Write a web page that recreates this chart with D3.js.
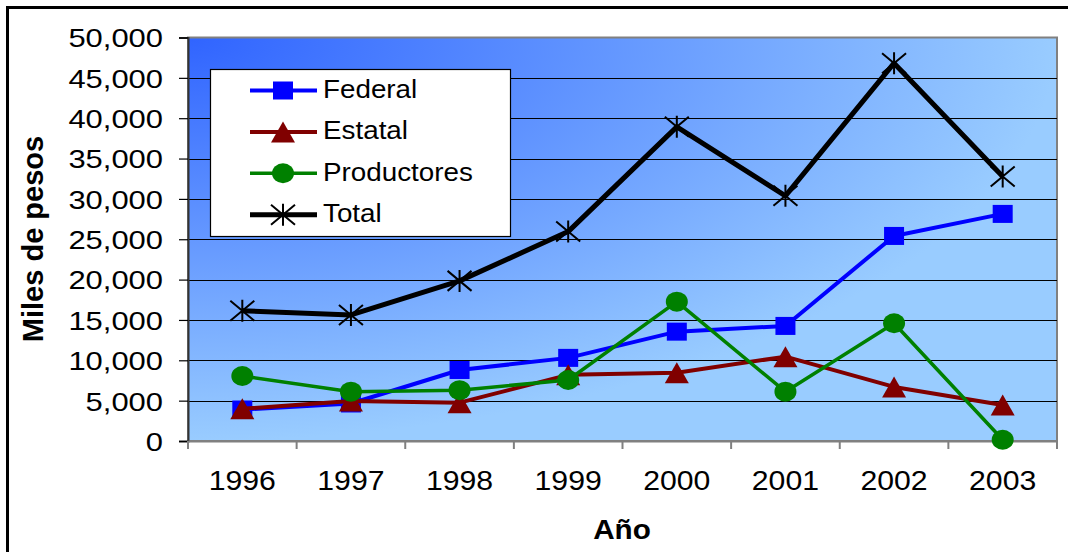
<!DOCTYPE html>
<html>
<head>
<meta charset="utf-8">
<script src="https://cdn.jsdelivr.net/npm/d3@7/dist/d3.min.js"></script>
<style>
  body { margin: 0; background: #fff; }
  svg { display: block; font-family: "Liberation Sans", Arial, sans-serif; }
</style>
</head>
<body>
<svg id="chart" width="1068" height="552"></svg>
<script>
// Aportaciones por año (miles de pesos)
const years = ["1996", "1997", "1998", "1999", "2000", "2001", "2002", "2003"];
const federal = [3900, 4650, 8800, 10300, 13550, 14260, 25410, 28140];
const estatal = [4000, 4950, 4750, 8200, 8470, 10450, 6700, 4460];
const productores = [8060, 6110, 6300, 7560, 17270, 6110, 14590, 150];
const total = [16150, 15620, 19840, 25950, 38930, 30380, 46820, 32770];
const yTicks = [0, 5000, 10000, 15000, 20000, 25000, 30000, 35000, 40000, 45000, 50000];
const seriesNames = ["Federal", "Estatal", "Productores", "Total"];

const series = [
  { name: seriesNames[0], values: federal, color: "#0000ff", width: 4, marker: "square" },
  { name: seriesNames[1], values: estatal, color: "#800000", width: 4, marker: "triangle" },
  { name: seriesNames[2], values: productores, color: "#008000", width: 3.5, marker: "circle" },
  { name: seriesNames[3], values: total, color: "#000000", width: 5, marker: "star" }
];

const svg = d3.select("#chart");
const plot = { left: 188, right: 1057, top: 37.5, bottom: 441 };

const x = d3.scaleBand().domain(years).range([plot.left, plot.right]).padding(0);
const y = d3.scaleLinear().domain([0, 50000]).range([plot.bottom, plot.top]);

// outer frame
svg.append("path")
  .attr("d", "M7.5,560 L7.5,7.5 L1080,7.5")
  .attr("fill", "none").attr("stroke", "#000").attr("stroke-width", 3);

// plot background: gradient spreading from the upper-left corner
const defs = svg.append("defs");
const grad = defs.append("radialGradient").attr("id", "plotBg")
  .attr("cx", 0).attr("cy", 0).attr("fx", 0).attr("fy", 0).attr("r", 1);
grad.append("stop").attr("offset", 0).attr("stop-color", "#3064ff");
grad.append("stop").attr("offset", 1).attr("stop-color", "#99ccff");

svg.append("rect")
  .attr("x", plot.left).attr("y", plot.top)
  .attr("width", plot.right - plot.left).attr("height", plot.bottom - plot.top)
  .attr("fill", "url(#plotBg)")
  .attr("stroke", "#808080").attr("stroke-width", 2);

// gridlines
svg.append("g").selectAll("line")
  .data(yTicks.filter(d => d > 0 && d < 50000))
  .join("line")
  .attr("x1", plot.left).attr("x2", plot.right)
  .attr("y1", d => Math.round(y(d)) + 0.5).attr("y2", d => Math.round(y(d)) + 0.5)
  .attr("stroke", "#000").attr("stroke-width", 1);

// y axis
const yAxis = svg.append("g")
  .attr("transform", `translate(${plot.left},0)`)
  .call(d3.axisLeft(y).tickValues(yTicks).tickSize(9).tickFormat(d3.format(",")));
yAxis.select(".domain").attr("stroke", "#333").attr("stroke-width", 2);
yAxis.selectAll(".tick line").attr("stroke", "#000").attr("stroke-width", 1.2);
yAxis.selectAll(".tick text")
  .attr("font-family", "Liberation Sans, Arial, sans-serif")
  .attr("font-size", 26).attr("fill", "#000")
  .attr("x", -25 / 1.19).attr("dy", "0.36em")
  .attr("transform", "scale(1.19,1)");

// x axis (labels at the category centres, ticks at the category edges)
const xAxis = svg.append("g")
  .attr("transform", `translate(0,${plot.bottom})`)
  .call(d3.axisBottom(x).tickSize(0));
xAxis.select(".domain").attr("stroke", "#808080").attr("stroke-width", 2);
xAxis.selectAll(".tick text")
  .attr("font-family", "Liberation Sans, Arial, sans-serif")
  .attr("font-size", 27).attr("fill", "#000")
  .attr("y", 49).attr("dy", 0)
  .attr("transform", "scale(1.12,1)")
  .attr("x", 0);
// keep the stretched labels centred on their tick
xAxis.selectAll(".tick").each(function (d) {
  const cx = x(d) + x.bandwidth() / 2;
  d3.select(this).attr("transform", `translate(${cx},0)`);
});
const edges = years.map(d => x(d)).concat([x(years[years.length - 1]) + x.bandwidth()]);
xAxis.selectAll(".edge").data(edges).join("line").attr("class", "edge")
  .attr("x1", d => d).attr("x2", d => d).attr("y1", 0).attr("y2", 8)
  .attr("stroke", "#808080").attr("stroke-width", 2);

// axis titles
svg.append("text")
  .attr("transform", "translate(43,239) rotate(-90)")
  .attr("text-anchor", "middle").attr("font-weight", "bold")
  .attr("font-size", 29).attr("fill", "#000")
  .text("Miles de pesos");
svg.append("text")
  .attr("transform", "translate(622,539) scale(1.1,1)")
  .attr("text-anchor", "middle").attr("font-weight", "bold")
  .attr("font-size", 27).attr("fill", "#000")
  .text("Año");

// marker shapes
function drawMarker(g, type, color) {
  if (type === "square") {
    g.append("rect").attr("x", -10).attr("y", -9).attr("width", 20).attr("height", 18).attr("fill", color);
  } else if (type === "triangle") {
    g.append("path").attr("d", "M0,-10.5 L12,10.5 L-12,10.5 Z").attr("fill", color);
  } else if (type === "circle") {
    g.append("ellipse").attr("rx", 11).attr("ry", 10).attr("fill", color);
  } else if (type === "star") {
    g.append("path").attr("d", "M0,-11 L0,11 M-12,-10 L12,10 M-12,10 L12,-10")
      .attr("stroke", color).attr("stroke-width", 2).attr("fill", "none");
  }
}

// series lines and markers
const line = d3.line().x(d => d.x).y(d => d.y);
series.forEach(s => {
  const pts = s.values.map((v, i) => ({ x: x(years[i]) + x.bandwidth() / 2, y: y(v) }));
  const g = svg.append("g");
  g.append("path").attr("d", line(pts))
    .attr("fill", "none").attr("stroke", s.color).attr("stroke-width", s.width)
    .attr("stroke-linejoin", "round");
  pts.forEach(p => {
    drawMarker(g.append("g").attr("transform", `translate(${p.x},${p.y})`), s.marker, s.color);
  });
});

// legend
const legend = svg.append("g");
legend.append("rect")
  .attr("x", 210.5).attr("y", 69.5).attr("width", 300).attr("height", 167)
  .attr("fill", "#fff").attr("stroke", "#000").attr("stroke-width", 1.2);
series.forEach((s, i) => {
  const ry = 90.5 + i * 41.4;
  const row = legend.append("g");
  row.append("line").attr("x1", 250).attr("x2", 317).attr("y1", ry).attr("y2", ry)
    .attr("stroke", s.color).attr("stroke-width", s.width);
  drawMarker(row.append("g").attr("transform", `translate(283,${ry})`), s.marker, s.color);
  row.append("text")
    .attr("transform", `translate(323,${ry + 7.5}) scale(1.07,1)`)
    .attr("font-size", 26).attr("fill", "#000")
    .text(s.name);
});
</script>
</body>
</html>
